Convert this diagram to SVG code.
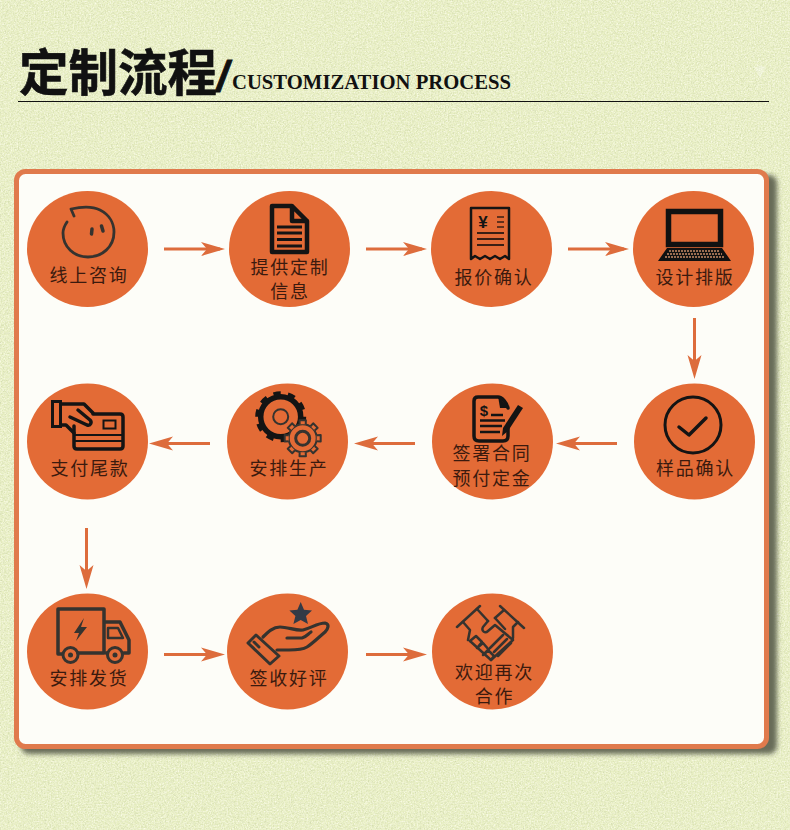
<svg xmlns="http://www.w3.org/2000/svg" xmlns:xlink="http://www.w3.org/1999/xlink" width="790" height="830" viewBox="0 0 790 830">
<style>
.c{fill:#e36b36}
.t{font-family:"Noto Sans CJK SC","Noto Sans CJK JP",sans-serif;font-size:18px;letter-spacing:1.7px;fill:#3b1a0e;text-anchor:middle}
.k{fill:none;stroke:#141414;stroke-linecap:round;stroke-linejoin:round}
.g{fill:none;stroke:#35332f;stroke-linecap:round;stroke-linejoin:round}
.a{stroke:#dd6c3c;stroke-width:3;fill:none}
</style>
<defs>
<filter id="noise" x="0" y="0" width="100%" height="100%">
<feTurbulence type="fractalNoise" baseFrequency="0.6" numOctaves="3" seed="4"/>
<feColorMatrix values="0 0 0 0 0.58  0 0 0 0 0.64  0 0 0 0 0.38  1 1 0 0 -0.86"/>
</filter>
<filter id="noise2" x="0" y="0" width="100%" height="100%">
<feTurbulence type="fractalNoise" baseFrequency="0.7" numOctaves="2" seed="11"/>
<feColorMatrix values="0 0 0 0 1  0 0 0 0 1  0 0 0 0 0.88  1.1 1.1 0 0 -0.92"/>
</filter>
<filter id="blur" x="-5%" y="-5%" width="110%" height="110%"><feGaussianBlur stdDeviation="2.800"/></filter>
<marker id="ah" markerUnits="userSpaceOnUse" markerWidth="26" markerHeight="16" refX="19" refY="8" orient="auto">
<path d="M0,1 L24,8 L0,15 L6,8Z" fill="#dd6c3c"/>
</marker>
<path id="tooth" d="M-3,-14 L-3.2,-18 L3.200,-18 L3,-14" fill="#e36b36" stroke="#35332f" stroke-width="2" stroke-linejoin="round"/>
</defs>
<rect width="790" height="830" fill="#e8efc2"/>
<rect width="790" height="830" filter="url(#noise)"/>
<rect width="790" height="830" filter="url(#noise2)"/>

<g id="title">
<text x="19" y="91" font-family="'Noto Sans CJK SC','Noto Sans CJK JP',sans-serif" font-weight="700" font-size="49.500" fill="#111" stroke="#111" stroke-width="0.6">定制流程</text>
<text x="216.500" y="91" font-family="'Liberation Sans',sans-serif" font-style="italic" font-weight="700" font-size="43" fill="#111" stroke="#111" stroke-width="0.8">/</text>
<text x="232" y="89" font-family="'Liberation Serif',serif" font-weight="700" font-size="20.500" fill="#111" textLength="279" lengthAdjust="spacingAndGlyphs">CUSTOMIZATION PROCESS</text>
<rect x="18" y="101" width="751" height="1" fill="#111"/>
<path d="M755,68 Q760,63 765,68 L760,78Z" fill="#fff" opacity="0.3"/>
</g>

<g id="card">
<rect x="21" y="175" width="756" height="579" rx="8" fill="#686c58" filter="url(#blur)"/>
<rect x="16.500" y="171.500" width="750" height="575" rx="9" fill="#fdfdf8" stroke="#e07a4c" stroke-width="5"/>
</g>

<g id="connectors">
<line class="a" x1="164" y1="249" x2="220" y2="249" marker-end="url(#ah)"/>
<line class="a" x1="366" y1="249" x2="422" y2="249" marker-end="url(#ah)"/>
<line class="a" x1="568" y1="249" x2="624" y2="249" marker-end="url(#ah)"/>
<line class="a" x1="694.500" y1="318" x2="694.500" y2="374" marker-end="url(#ah)"/>
<line class="a" x1="617" y1="443.500" x2="561" y2="443.500" marker-end="url(#ah)"/>
<line class="a" x1="415" y1="443.500" x2="359" y2="443.500" marker-end="url(#ah)"/>
<line class="a" x1="210" y1="443.500" x2="154" y2="443.500" marker-end="url(#ah)"/>
<line class="a" x1="86.500" y1="528" x2="86.500" y2="584" marker-end="url(#ah)"/>
<line class="a" x1="164" y1="654.500" x2="220" y2="654.500" marker-end="url(#ah)"/>
<line class="a" x1="366" y1="654.500" x2="422" y2="654.500" marker-end="url(#ah)"/>
</g>

<g id="n1">
<ellipse class="c" cx="87.500" cy="249" rx="60.500" ry="58"/>
<path class="g" stroke-width="2.800" d="M74,216 L71,209 C80,207 92,206 100,210 C110,215 114,224 114,232 C114,247 102,257 88,257 C74,257 63,247 63,233 C63,229 65,225 67,222"/>
<path class="g" stroke-width="3.500" d="M92,229 L91.500,234 M101.500,226 L103,231"/>
<text class="t" x="89" y="281.500">线上咨询</text>
</g>

<g id="n2">
<ellipse class="c" cx="289.500" cy="249" rx="60.500" ry="58"/>
<path class="k" stroke-width="4.500" d="M272,206 H292 L307,221 V252 H272Z M292,206 V221 H307"/>
<path stroke="#141414" stroke-width="3" d="M277,227 H302 M277,233 H302 M277,239.500 H302 M277,246 H302"/>
<text class="t" x="290" y="274">提供定制</text>
<text class="t" x="290" y="298">信息</text>
</g>

<g id="n3">
<ellipse class="c" cx="491.500" cy="249" rx="60.500" ry="58"/>
<path class="k" stroke-width="2.500" d="M471,208 H509 V259 L505,256 L500,259 L495,256 L490,259 L485,256 L480,259 L475,256 L471,259Z"/>
<text x="483" y="228" font-family="'Liberation Sans',sans-serif" font-weight="700" font-size="17" fill="#141414" text-anchor="middle">¥</text>
<path stroke="#3a1f14" stroke-width="1.500" d="M497,217 H504 M497,222 H504 M497,227 H504"/>
<path stroke="#3a1f14" stroke-width="1.800" d="M477,233 H504 M477,239 H504 M477,245 H504"/>
<text class="t" x="494" y="283.500">报价确认</text>
</g>

<g id="n4">
<ellipse class="c" cx="693.500" cy="249" rx="60.500" ry="58"/>
<rect x="668.500" y="211.500" width="52" height="33" fill="none" stroke="#111" stroke-width="5.500"/>
<path d="M667,248 H722 L731,261 H658Z" fill="#111"/>
<path stroke="#c98a66" stroke-width="1.600" stroke-dasharray="2 1" d="M669,251 H720 M667,254 H722 M665,257 H724"/>
<text class="t" x="695" y="283.500">设计排版</text>
</g>

<g id="n5">
<ellipse class="c" cx="694.500" cy="441.500" rx="60.500" ry="58"/>
<circle class="k" cx="693" cy="425" r="28" stroke-width="3"/>
<path class="k" stroke-width="3.500" d="M679,427 L689,435 L706,418"/>
<text class="t" x="695.500" y="475">样品确认</text>
</g>

<g id="n6">
<ellipse class="c" cx="492.500" cy="441.500" rx="60.500" ry="58"/>
<path class="k" stroke-width="3.500" d="M508,424 V436 Q508,441 503,441 H479 Q474,441 474,436 V401 Q474,397 478,397 H498 C502,397 507,403 508,408"/>
<path d="M498,396 L509,408 L500,408Z" fill="#141414"/>
<text x="484" y="416" font-family="'Liberation Sans',sans-serif" font-weight="700" font-size="15" fill="#141414" text-anchor="middle">$</text>
<path stroke="#141414" stroke-width="2.500" d="M491,415 H503 M480,420.500 H505 M480,426 H502 M480,432 H500"/>
<path d="M518,405 L523,408 L508,431 L502,436 L503,428Z" fill="#141414"/>
<text class="t" x="492" y="460">签署合同</text>
<text class="t" x="492" y="485">预付定金</text>
</g>

<g id="n7">
<ellipse class="c" cx="287.500" cy="441.500" rx="60.500" ry="58"/>
<circle cx="280.700" cy="416.700" r="20" fill="none" stroke="#141414" stroke-width="5.500"/>
<circle cx="280.700" cy="416.700" r="23" fill="none" stroke="#141414" stroke-width="5" pathLength="100" stroke-dasharray="5 5"/>
<circle cx="280.700" cy="416.700" r="7.500" fill="none" stroke="#35332f" stroke-width="2"/>
<g transform="translate(302.700,438.300)">
<circle r="14" fill="#e36b36" stroke="#35332f" stroke-width="2"/>
<use xlink:href="#tooth" href="#tooth"/>
<use xlink:href="#tooth" href="#tooth" transform="rotate(45)"/>
<use xlink:href="#tooth" href="#tooth" transform="rotate(90)"/>
<use xlink:href="#tooth" href="#tooth" transform="rotate(135)"/>
<use xlink:href="#tooth" href="#tooth" transform="rotate(180)"/>
<use xlink:href="#tooth" href="#tooth" transform="rotate(225)"/>
<use xlink:href="#tooth" href="#tooth" transform="rotate(270)"/>
<use xlink:href="#tooth" href="#tooth" transform="rotate(315)"/>
<circle r="7" fill="none" stroke="#35332f" stroke-width="3"/>
</g>
<text class="t" x="289" y="475">安排生产</text>
</g>

<g id="n8">
<ellipse class="c" cx="87.500" cy="441.500" rx="60.500" ry="58"/>
<rect x="52.500" y="401.500" width="8" height="25" fill="none" stroke="#141414" stroke-width="3"/>
<path class="k" stroke-width="3.500" d="M61,404 H84 L93,413 M61,425 H66 L74,433 M70,417 L87,425 C91,426 92,422 90,420 L78,410"/>
<path class="k" stroke-width="3.500" d="M93,414 H120 Q123,414 123,417 V446 Q123,449 120,449 H77 Q74,449 74,446 V426"/>
<path stroke="#141414" stroke-width="2" d="M74,435 H123 M74,441 H123"/>
<rect x="103.500" y="420.500" width="12" height="8" fill="none" stroke="#141414" stroke-width="2"/>
<text class="t" x="90" y="475">支付尾款</text>
</g>

<g id="n9">
<ellipse class="c" cx="87.500" cy="651.500" rx="60.500" ry="58"/>
<path class="g" stroke-width="3.500" d="M62,654 H58 V609 H104 V653 M78,653 H104"/>
<path class="g" stroke-width="3.500" d="M105,622 H120 L129,640 V653 H124 M106,653 H107"/>
<path class="g" stroke-width="2.500" d="M108,628 H118 L123,638 H108Z"/>
<path d="M84,618 L74,633 H79 L76,641 L87,627 H81Z" fill="#35332f"/>
<circle class="g" cx="70.500" cy="655" r="7.500" stroke-width="3"/>
<circle class="g" cx="115" cy="655" r="7.500" stroke-width="3"/>
<circle cx="70.500" cy="655" r="2.500" fill="#35332f"/>
<circle cx="115" cy="655" r="2.500" fill="#35332f"/>
<text class="t" x="89" y="685">安排发货</text>
</g>

<g id="n10">
<ellipse class="c" cx="287.500" cy="651.500" rx="60.500" ry="58"/>
<path d="M300.700,602 L304,609.800 L312,610.500 L306,616 L308,624 L300.700,620 L293.400,624 L295.400,616 L289.400,610.500 L297.400,609.800Z" fill="#333a46"/>
<path class="g" stroke-width="3" d="M248,643 L256,635 L279,656 L270,664Z M254,642 L259,647"/>
<path class="g" stroke-width="3.200" d="M263,637 C268,632 273,627 280,627 C288,627 296,631 303,630 C311,628 318,623 325,623 C330,624 328,629 325,632 C318,638 312,644 307,647 C302,650 295,650 289,650 H277 M287,638 H302 C306,637 308,634 311,632"/>
<text class="t" x="289" y="685">签收好评</text>
</g>

<g id="n11">
<ellipse class="c" cx="492.500" cy="651.500" rx="60.500" ry="58"/>
<path class="g" stroke-width="2.500" d="M457,627 L480,606 M524,628 L500,606"/>
<path class="g" stroke-width="2.500" d="M463,622 L470,630 L468,640 M477,609 L488,621 M518,622 L513,627 L513,638 M504,610 L495,618"/>
<path class="g" stroke-width="2.500" d="M488,621 L483,627 C481,631 485,634 488,631 L495,625 L513,640 L491,660 L470,641"/>
<path class="g" stroke-width="2.500" d="M495,618 L505,629 M490,648 L503,635 M494,652 L507,639 M498,656 L511,643"/>
<path class="g" stroke-width="2.500" d="M470,641 L476,636 L482,642 L477,648 M477,648 L483,643 L489,650 L483,655 M483,655 L488,650 L494,656 L491,660"/>
<text class="t" x="494.500" y="679">欢迎再次</text>
<text class="t" x="494.500" y="703">合作</text>
</g>
</svg>
